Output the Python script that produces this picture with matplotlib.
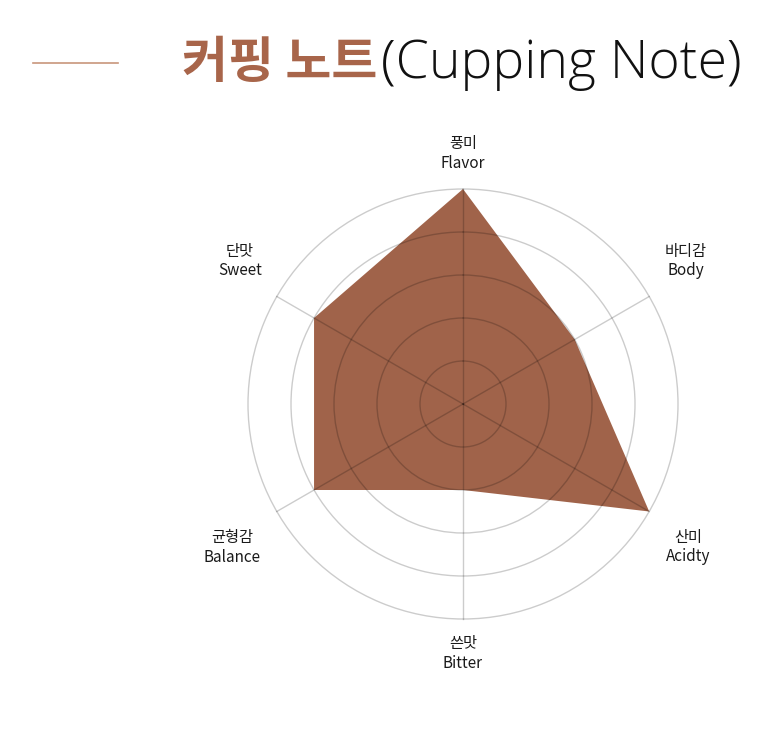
import numpy as np
import matplotlib
matplotlib.use("Agg")
import matplotlib.pyplot as plt
from matplotlib.lines import Line2D

plt.rcParams['font.family'] = ['Noto Sans CJK KR', 'DejaVu Sans']

labels_ko = ["풍미", "바디감", "산미", "쓴맛", "균형감", "단맛"]
labels_en = ["Flavor", "Body", "Acidty", "Bitter", "Balance", "Sweet"]
values = [5, 3, 5, 2, 4, 4]
ring_levels = [1, 2, 3, 4, 5]

fill_color = "#A0634A"
title_color = "#A8654A"

W, H = 778, 756
fig = plt.figure(figsize=(W / 100, H / 100), dpi=100)

cx, cy = 463, 404
rmax = 5.06
R = 215 * rmax / 5
ax = fig.add_axes([(cx - R) / W, (H - cy - R) / H, 2 * R / W, 2 * R / H], projection='polar')
ax.set_theta_zero_location('N')
ax.set_theta_direction(-1)
n = len(values)
angles = np.linspace(0, 2 * np.pi, n, endpoint=False)
ang_c = np.concatenate([angles, angles[:1]])
val_c = np.concatenate([values, values[:1]])

ax.fill(ang_c, val_c, color=fill_color, zorder=1, lw=0)
ax.set_ylim(0, rmax)
ax.set_yticks(ring_levels)
ax.set_yticklabels([])
ax.set_xticks(angles)
ax.set_xticklabels([])
ax.yaxis.grid(True, color='black', alpha=0.2, lw=1.0, zorder=3)
ax.xaxis.grid(False)
for a in angles:
    ax.plot([a, a], [0, max(ring_levels)], color='black', alpha=0.2, lw=1.0, zorder=3)
ax.set_axisbelow(False)
ax.spines['polar'].set_visible(False)
ax.tick_params(length=0)
ax.patch.set_alpha(0)

# label placement (angle in degrees from north, radius in data units)
label_theta = [0, 57.3, 122.4, 180, 238.2, 302.7]
label_r = [5.83, 6.16, 6.2, 5.8, 6.32, 6.16]
for a, k, e, r in zip(label_theta, labels_ko, labels_en, label_r):
    ax.text(np.deg2rad(a), r, k + "\n" + e, ha='center', va='center', fontsize=11,
            color='#1a1a1a', linespacing=1.2, clip_on=False)

# title
fig.add_artist(Line2D([33 / W, 118 / W], [1 - 63 / H, 1 - 63 / H], color="#C8967C", lw=1.2))
t1 = fig.text(182 / W, 1 - 64 / H, "커핑 노트", fontsize=36, fontweight='bold',
              color=title_color, ha='left', va='center')
fig.canvas.draw()
bb = t1.get_window_extent()
fig.text((bb.x1 + 4) / W, 1 - 64 / H, "(Cupping Note)", fontsize=38.5, fontweight='light',
         color='#111111', ha='left', va='center', family=['Open Sans', 'DejaVu Sans'])

fig.savefig("out.png", dpi=100, facecolor='white')
